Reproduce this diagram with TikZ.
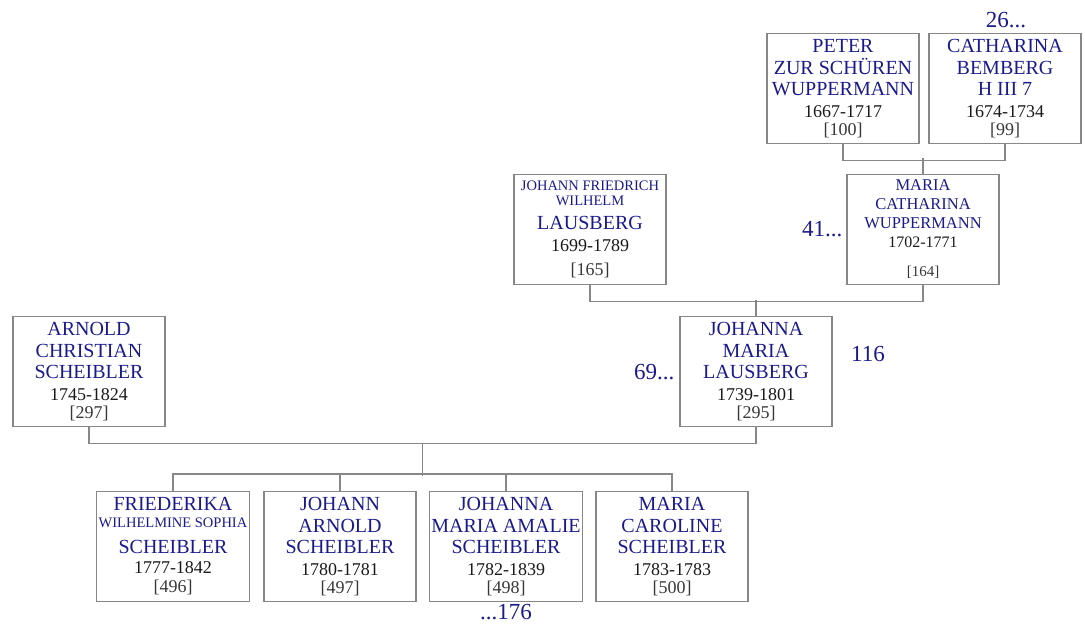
\documentclass[tikz,border=0pt]{standalone}
\usepackage{fontspec}
\setmainfont{Liberation Serif}
\usetikzlibrary{positioning,calc}
\definecolor{nameblue}{RGB}{26,26,140}
\definecolor{boxgray}{RGB}{135,135,135}
\definecolor{datecol}{RGB}{25,25,25}
\definecolor{refcol}{RGB}{55,55,55}
% name lines, small name lines, reference numbers
\newcommand{\nm}[1]{{\color{nameblue}\fontsize{20}{21.5}\selectfont #1}}
\newcommand{\snm}[1]{{\color{nameblue}\fontsize{14.5}{15}\selectfont #1}}
\newcommand{\rf}[1]{{\color{refcol}#1}}

\begin{document}
\begin{tikzpicture}[x=1pt,y=-1pt,
  person/.style={draw=boxgray,line width=1.1pt,minimum width=152pt,minimum height=110pt,
    inner sep=2pt,align=center,anchor=north,text=datecol,font=\fontsize{18}{21.5}\selectfont},
  link/.style={draw=boxgray,line width=1.1pt},
  more/.style={text=nameblue,font=\fontsize{23}{25}\selectfont,inner sep=1pt}]
\useasboundingbox (0,0) rectangle (1085,628);
% generation 1
\node[person] (peter) at (843,33) {\nm{PETER}\\\nm{ZUR SCHÜREN}\\\nm{WUPPERMANN}\\1667-1717\\[-3.5pt]\rf{[100]}};
\node[person] (cath)  at (1005,33) {\nm{CATHARINA}\\\nm{BEMBERG}\\\nm{H III 7}\\1674-1734\\[-3.5pt]\rf{[99]}};
% generation 2
\node[person] (jfw) at (590,174) {\snm{JOHANN FRIEDRICH}\\[-6.5pt]\snm{WILHELM}\\[2.5pt]\nm{LAUSBERG}\\1699-1789\\[2.5pt]\rf{[165]}};
\node[person] (mcw) at (923,174) {{\color{nameblue}\fontsize{16.5}{19}\selectfont MARIA}\\[-2.5pt]
  {\color{nameblue}\fontsize{16.5}{19}\selectfont CATHARINA}\\[-2.5pt]
  {\color{nameblue}\fontsize{16.5}{19}\selectfont WUPPERMANN}\\[-2.5pt]
  {\fontsize{16}{18}\selectfont 1702-1771}\\[7.5pt]\rf{\fontsize{15}{16}\selectfont [164]}};
% generation 3
\node[person] (arnold)  at (89,316)  {\nm{ARNOLD}\\\nm{CHRISTIAN}\\\nm{SCHEIBLER}\\1745-1824\\[-3.5pt]\rf{[297]}};
\node[person] (johanna) at (756,316) {\nm{JOHANNA}\\\nm{MARIA}\\\nm{LAUSBERG}\\1739-1801\\[-3.5pt]\rf{[295]}};
% children
\node[person] (c1) at (173,491) {\nm{FRIEDERIKA}\\[-4.5pt]\snm{WILHELMINE SOPHIA}\\[4.5pt]\nm{SCHEIBLER}\\[-1.5pt]1777-1842\\[-2.5pt]\rf{[496]}};
\node[person] (c2) at (340,491) {\nm{JOHANN}\\\nm{ARNOLD}\\\nm{SCHEIBLER}\\1780-1781\\[-3.5pt]\rf{[497]}};
\node[person] (c3) at (506,491) {\nm{JOHANNA}\\\nm{MARIA AMALIE}\\\nm{SCHEIBLER}\\1782-1839\\[-3.5pt]\rf{[498]}};
\node[person] (c4) at (672,491) {\nm{MARIA}\\\nm{CAROLINE}\\\nm{SCHEIBLER}\\1783-1783\\[-3.5pt]\rf{[500]}};
% continuation marks
\node[more,anchor=base] (m26) at (1006,28) {26...};
\node[more,left=3pt of mcw] (m41) {41...};
\node[more,left=4pt of johanna] (m69) {69...};
\node[more] (m116) at (868,354) {116};
\node[more,below=1pt of c3] (m176) {...176};
% couples and descent
\draw[link] (peter.south) -- ++(0,16) -| (cath.south);
\draw[link] (mcw.north) -- ++(0,-16);
\draw[link] (jfw.south) -- ++(0,16) -| (mcw.south);
\draw[link] (johanna.north) -- ++(0,-16);
\draw[link] (arnold.south) -- ++(0,16) -| (johanna.south);
\coordinate (fam) at ($(arnold.south)!.5!(johanna.south)+(0,16)$);
\draw[link] (fam) -- ++(0,33);
\draw[link] (c1.north) -- ++(0,-17) -| (c4.north);
\draw[link] (c2.north) -- ++(0,-17);
\draw[link] (c3.north) -- ++(0,-17);
\end{tikzpicture}
\end{document}
